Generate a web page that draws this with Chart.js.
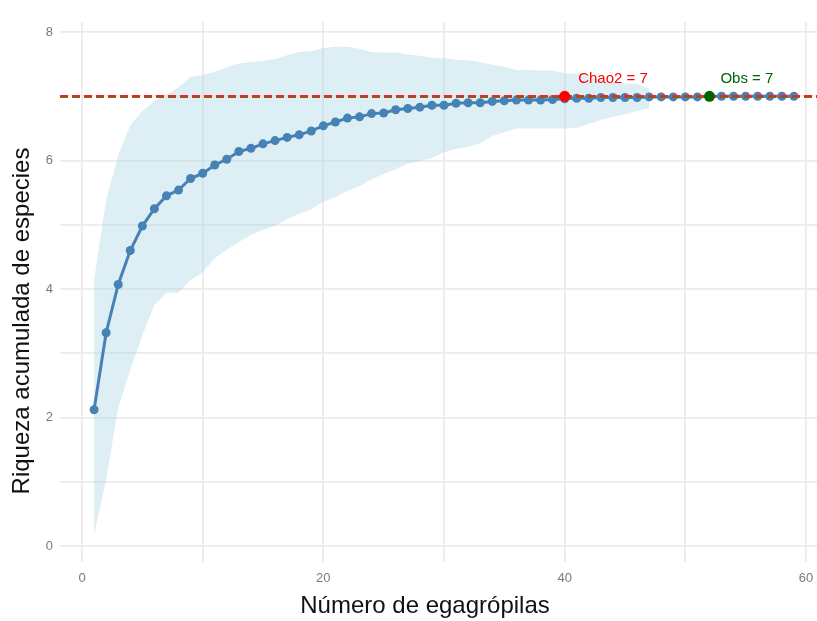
<!DOCTYPE html>
<html lang="es">
  <head>
    <meta charset="UTF-8" />
    <title>Curva de acumulación de especies</title>
    <script src="https://cdn.jsdelivr.net/npm/chart.js"></script>
    <style>
      body {
        margin: 0;
        background: #fff;
        overflow: hidden;
      }
    </style>
  </head>
  <body>
    <canvas id="accumChart" width="817" height="621"></canvas>

    <script>
      // número de egagrópilas (eje x)
      const samples = [
        1, 2, 3, 4, 5, 6, 7, 8, 9, 10, 11, 12, 13, 14, 15, 16, 17, 18, 19, 20,
        21, 22, 23, 24, 25, 26, 27, 28, 29, 30, 31, 32, 33, 34, 35, 36, 37, 38,
        39, 40, 41, 42, 43, 44, 45, 46, 47, 48, 49, 50, 51, 52, 53, 54, 55, 56,
        57, 58, 59,
      ];
      // riqueza media acumulada
      const meanRichness = [
        2.12, 3.32, 4.07, 4.6, 4.98, 5.25, 5.45, 5.54, 5.72, 5.8, 5.93, 6.02,
        6.14, 6.19, 6.26, 6.31, 6.36, 6.4, 6.46, 6.54, 6.6, 6.66, 6.68, 6.73,
        6.74, 6.79, 6.81, 6.83, 6.86, 6.86, 6.89, 6.9, 6.9, 6.92, 6.93, 6.94,
        6.94, 6.94, 6.95, 6.96, 6.97, 6.97, 6.98, 6.98, 6.98, 6.98, 6.99, 6.99,
        6.99, 6.99, 6.99, 7.0, 7.0, 7.0, 7.0, 7.0, 7.0, 7.0, 7.0,
      ];
      // intervalo (banda) para x = 1..47
      const upperCI = [
        4.14, 5.39, 6.08, 6.55, 6.77, 6.93, 7.02, 7.14, 7.3, 7.33, 7.38, 7.45,
        7.51, 7.53, 7.55, 7.58, 7.64, 7.69, 7.7, 7.75, 7.77, 7.77, 7.74, 7.69,
        7.68, 7.68, 7.65, 7.63, 7.6, 7.59, 7.57, 7.56, 7.53, 7.49, 7.46, 7.41,
        7.41, 7.4, 7.4, 7.36, 7.35, 7.3, 7.25, 7.22, 7.2, 7.19, 7.12,
      ];
      const lowerCI = [
        0.17, 1.03, 2.15, 2.74, 3.28, 3.75, 3.94, 3.94, 4.14, 4.26, 4.48, 4.61,
        4.73, 4.84, 4.92, 4.98, 5.09, 5.17, 5.24, 5.36, 5.43, 5.53, 5.6, 5.71,
        5.79, 5.86, 5.95, 5.99, 6.04, 6.13, 6.18, 6.21, 6.27, 6.38, 6.44, 6.5,
        6.5, 6.5, 6.5, 6.5, 6.51, 6.57, 6.63, 6.68, 6.72, 6.77, 6.81,
      ];

      const xTicks = [0, 10, 20, 30, 40, 50, 60];
      const yTicks = [0, 1, 2, 3, 4, 5, 6, 7, 8];

      const chao2Value = 7;
      const chao2At = 40;
      const obsValue = 7;
      const obsAt = 52;
      const chao2LabelAt = [44, 7.27];
      const obsLabelAt = [55.1, 7.27];

      const FONT = "'Liberation Sans', Arial, sans-serif";
      const MEAN_INDEX = 2;

      const toPoints = (ys) => ys.map((y, i) => ({ x: samples[i], y: y }));

      // linea discontinua de referencia (encima de la curva, debajo de los puntos)
      const refLinePlugin = {
        id: "refLine",
        afterDatasetDraw(chart, args) {
          if (args.index !== MEAN_INDEX) return;
          const { ctx, chartArea } = chart;
          const y =
            Math.round(chart.scales.y.getPixelForValue(chao2Value) - 0.5) + 0.5;
          ctx.save();
          ctx.beginPath();
          ctx.moveTo(chartArea.left, y);
          ctx.lineTo(chartArea.right, y);
          ctx.setLineDash([8, 4]);
          ctx.strokeStyle = "#ff2020";
          ctx.lineWidth = 3;
          ctx.stroke();
          ctx.setLineDash([6, 6]);
          ctx.lineDashOffset = -1;
          ctx.strokeStyle = "#228b22";
          ctx.lineWidth = 1;
          ctx.stroke();
          ctx.restore();
        },
      };

      const textPlugin = {
        id: "texts",
        afterDraw(chart) {
          const { ctx } = chart;
          const xs = chart.scales.x;
          const ys = chart.scales.y;
          ctx.save();
          ctx.textAlign = "center";
          ctx.textBaseline = "middle";
          ctx.font = "15px " + FONT;
          ctx.fillStyle = "#ff0000";
          ctx.fillText(
            "Chao2 = " + chao2Value,
            xs.getPixelForValue(chao2LabelAt[0]),
            ys.getPixelForValue(chao2LabelAt[1])
          );
          ctx.fillStyle = "#006400";
          ctx.fillText(
            "Obs = " + obsValue,
            xs.getPixelForValue(obsLabelAt[0]),
            ys.getPixelForValue(obsLabelAt[1])
          );

          // titulos de los ejes
          ctx.fillStyle = "#111";
          ctx.font = "24px " + FONT;
          ctx.fillText("Número de egagrópilas", 425, 606);
          ctx.translate(22, 321);
          ctx.rotate(-Math.PI / 2);
          ctx.fillText("Riqueza acumulada de especies", 0, 0);
          ctx.restore();
        },
      };

      const gridStyle = {
        color: "#ebebeb",
        lineWidth: 1.8,
        drawTicks: false,
      };

      new Chart(document.getElementById("accumChart"), {
        type: "line",
        data: {
          datasets: [
            {
              label: "Obs",
              data: [{ x: obsAt, y: obsValue }],
              showLine: false,
              pointRadius: 5.5,
              pointBackgroundColor: "#006400",
              pointBorderWidth: 0,
              order: 0,
            },
            {
              label: "Chao2",
              data: [{ x: chao2At, y: chao2Value }],
              showLine: false,
              pointRadius: 5.5,
              pointBackgroundColor: "#ff0000",
              pointBorderWidth: 0,
              order: 0,
            },
            {
              label: "Riqueza media",
              data: toPoints(meanRichness),
              borderColor: "#4682b4",
              borderWidth: 3,
              pointRadius: 4.5,
              pointBackgroundColor: "#4682b4",
              pointBorderWidth: 0,
              fill: false,
              order: 1,
            },
            {
              label: "Superior",
              data: toPoints(upperCI),
              borderColor: "transparent",
              borderWidth: 0,
              pointRadius: 0,
              backgroundColor: "rgba(173, 216, 230, 0.42)",
              fill: "+1",
              order: 2,
            },
            {
              label: "Inferior",
              data: toPoints(lowerCI),
              borderColor: "transparent",
              borderWidth: 0,
              pointRadius: 0,
              fill: false,
              order: 2,
            },
          ],
        },
        options: {
          responsive: false,
          animation: false,
          events: [],
          layout: {
            autoPadding: false,
            padding: { top: 22, right: 0, left: 0, bottom: 0 },
          },
          plugins: {
            legend: { display: false },
            tooltip: { enabled: false },
          },
          scales: {
            x: {
              type: "linear",
              min: -1.823,
              max: 60.91,
              afterBuildTicks: (scale) => {
                scale.ticks = xTicks.map((v) => ({ value: v }));
              },
              afterFit: (scale) => {
                scale.height = 59;
                scale.paddingLeft = 0;
                scale.paddingRight = 0;
              },
              grid: gridStyle,
              border: { display: false },
              ticks: {
                padding: 9,
                color: "#7a7a7a",
                font: { family: FONT, size: 13 },
                callback: (v) => (v % 20 === 0 ? v : ""),
              },
            },
            y: {
              type: "linear",
              min: -0.249,
              max: 8.156,
              afterBuildTicks: (scale) => {
                scale.ticks = yTicks.map((v) => ({ value: v }));
              },
              afterFit: (scale) => {
                scale.width = 60;
                scale.paddingTop = 0;
                scale.paddingBottom = 0;
              },
              grid: gridStyle,
              border: { display: false },
              ticks: {
                padding: 7,
                color: "#7a7a7a",
                font: { family: FONT, size: 13 },
                callback: (v) => (v % 2 === 0 ? v : ""),
              },
            },
          },
        },
        plugins: [refLinePlugin, textPlugin],
      });
    </script>
  </body>
</html>
